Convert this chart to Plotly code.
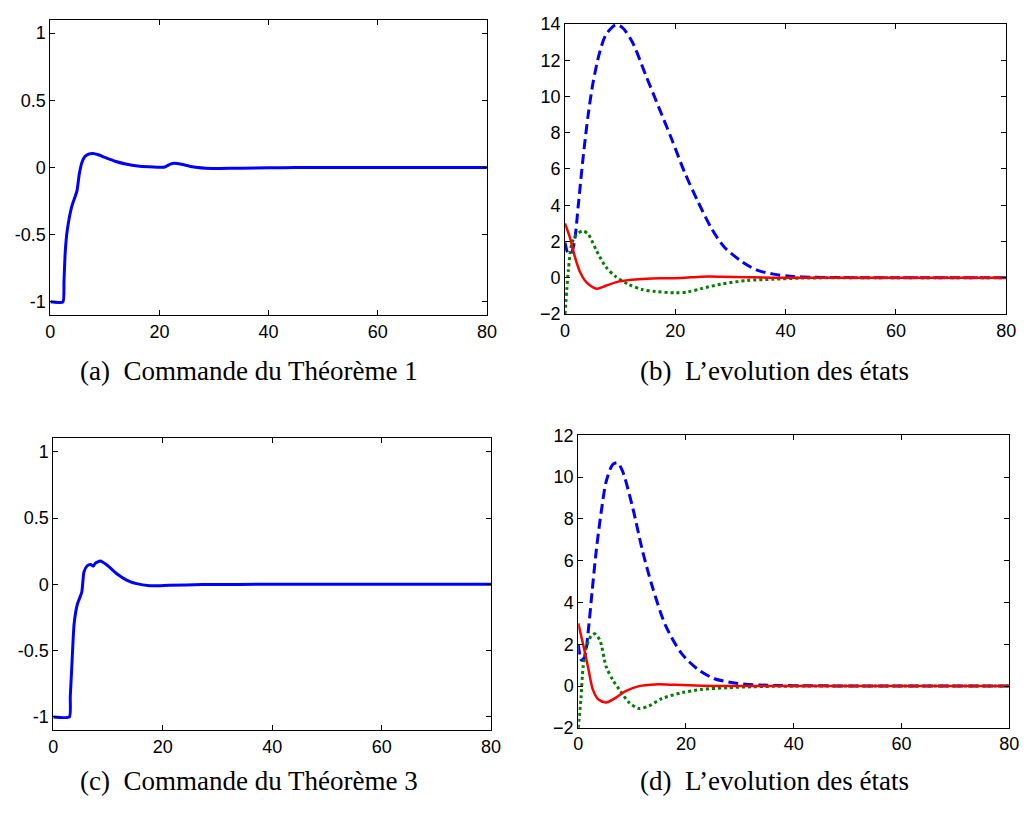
import plotly.graph_objects as go

# ---------------- data ----------------
# (a) commande, Théorème 1
t_a = [0, 2.3, 2.5, 2.7, 3.0, 3.4, 4.0, 4.6, 4.9, 5.3, 5.8, 6.3, 7.0, 7.8, 8.8, 10.0, 12.0, 14.0, 16.0, 18.0, 20.8, 21.3, 22.0, 22.7, 24.0, 25.5, 27.0, 28.5, 31.0, 35.0, 40.0, 45.0, 80.0]
u_a = [-1, -1, -0.85, -0.65, -0.5, -0.39, -0.28, -0.21, -0.17, -0.05, 0.04, 0.08, 0.1, 0.105, 0.095, 0.075, 0.045, 0.025, 0.012, 0.006, 0.002, 0.01, 0.025, 0.031, 0.024, 0.01, 0.0, -0.005, -0.007, -0.005, -0.002, 0.0, 0.0]

# (c) commande, Théorème 3
t_c = [0, 2.95, 3.1, 3.36, 3.8, 4.4, 5.2, 5.6, 6.2, 6.8, 7.3, 7.7, 8.6, 9.8, 11.6, 13.4, 15.2, 17.6, 21.2, 27.2, 40.0, 80.0]
u_c = [-1, -1, -0.85, -0.64, -0.30, -0.15, -0.06, 0.093, 0.14, 0.15, 0.137, 0.16, 0.176, 0.146, 0.08, 0.032, 0.005, -0.01, -0.007, -0.002, 0.0, 0.0]

# (b) états
t_b1 = [0, 0.6, 1.2, 1.8, 2.4, 3.3, 4.2, 5.1, 6.25, 7.4, 9.2, 10.4, 12.2, 14.6, 17.0, 19.4, 21.7, 24.1, 26.5, 28.9, 31.9, 34.8, 37.8, 40.8, 45, 50, 80]
x1_b = [1.95, 1.32, 1.4, 2.2, 4.0, 6.7, 9.0, 10.8, 12.4, 13.4, 13.95, 13.8, 13.0, 11.2, 9.4, 7.6, 5.8, 4.2, 2.75, 1.68, 0.93, 0.42, 0.2, 0.08, 0.03, 0.01, 0.0]
t_b2 = [0, 0.6, 1.2, 2.1, 3.3, 4.2, 5.7, 7.4, 9.2, 11.6, 14.0, 16.4, 20.0, 22.3, 24.7, 28.3, 33.0, 37.8, 42.6, 50, 80]
x2_b = [-2, 0.4, 1.85, 2.4, 2.58, 2.4, 1.5, 0.6, 0.06, -0.38, -0.65, -0.76, -0.83, -0.78, -0.6, -0.35, -0.15, -0.08, -0.02, 0.0, 0.0]
t_b3 = [0, 0.9, 1.8, 2.7, 3.9, 5.7, 7.4, 9.8, 13.4, 17.0, 21.1, 24.7, 28.3, 33.0, 39.0, 80]
x3_b = [3.0, 2.2, 1.14, 0.33, -0.26, -0.6, -0.44, -0.2, -0.08, -0.03, -0.01, 0.06, 0.06, 0.03, 0.0, 0.0]

# (d) états
t_d1 = [0, 0.6, 1.2, 1.8, 2.6, 3.35, 4.3, 5.2, 6.4, 7.3, 8.2, 10.1, 11.9, 13.7, 16.2, 19.2, 22.3, 25.3, 29.0, 33.8, 40, 80]
x1_d = [2.0, 1.24, 1.4, 2.5, 4.6, 6.5, 8.4, 9.8, 10.6, 10.68, 10.3, 8.55, 6.5, 4.8, 2.9, 1.55, 0.78, 0.35, 0.15, 0.05, 0.02, 0.0]
t_d2 = [0, 0.5, 0.9, 1.5, 2.4, 3.05, 4.0, 5.2, 6.4, 7.6, 9.45, 11.3, 13.1, 15.5, 19.2, 22.9, 27.7, 32.6, 40, 80]
x2_d = [-2, -0.6, 0.9, 1.85, 2.4, 2.5, 2.2, 0.92, 0.3, -0.16, -0.79, -1.07, -0.95, -0.6, -0.32, -0.16, -0.08, -0.03, 0.0, 0.0]
t_d3 = [0, 0.9, 1.8, 2.7, 3.7, 5.2, 7.0, 8.8, 11.3, 14.3, 18.0, 22.9, 27.7, 80]
x3_d = [3.0, 2.0, 0.93, -0.16, -0.63, -0.78, -0.55, -0.24, 0.0, 0.08, 0.06, 0.02, 0.0, 0.0]

x_ticks = [0, 20, 40, 60, 80]
u_ticks = [-1, -0.5, 0, 0.5, 1]
u_ticktext = ["-1", "-0.5", "0", "0.5", "1"]
b_ticks = [-2, 0, 2, 4, 6, 8, 10, 12, 14]
d_ticks = [-2, 0, 2, 4, 6, 8, 10, 12]

captions = ["(a)  Commande du Théorème 1", "(b)  L’evolution des états",
            "(c)  Commande du Théorème 3", "(d)  L’evolution des états"]

# ---------------- figure ----------------
W, H = 1032, 813
BLUE, GREEN, RED = "#0000FF", "#008000", "#FF0000"

def px(x):
    return x / W

def py(y):
    return 1 - y / H

fig = go.Figure()

def add_line(x, y, xa, ya, color, dash, width, smoothing):
    fig.add_trace(go.Scatter(x=x, y=y, xaxis=xa, yaxis=ya, mode="lines",
                             line=dict(color=color, dash=dash, width=width, shape="spline", smoothing=smoothing),
                             showlegend=False, hoverinfo="skip"))

add_line(t_a, u_a, "x", "y", BLUE, "solid", 3, 0.5)
add_line(t_b1, x1_b, "x2", "y2", BLUE, "10px,5px", 3, 0.8)
add_line(t_b2, x2_b, "x2", "y2", GREEN, "3px,3px", 3, 0.8)
add_line(t_b3, x3_b, "x2", "y2", RED, "solid", 2.5, 0.8)
add_line(t_c, u_c, "x3", "y3", BLUE, "solid", 3, 0.5)
add_line(t_d1, x1_d, "x4", "y4", BLUE, "10px,5px", 3, 0.8)
add_line(t_d2, x2_d, "x4", "y4", GREEN, "3px,3px", 3, 0.8)
add_line(t_d3, x3_d, "x4", "y4", RED, "solid", 2.5, 0.8)

tickfont = dict(family="Liberation Sans, Arial, sans-serif", size=18, color="black")
common = dict(showline=True, linecolor="black", linewidth=1, mirror="ticks",
              ticks="inside", ticklen=5, tickcolor="black", tickwidth=1,
              showgrid=False, zeroline=False, tickfont=tickfont, fixedrange=True)

domains = {
    1: ([px(46), px(489)], [py(313), py(10)], [-1.1, 1.1], u_ticks),
    2: ([px(568.3), px(1016)], [py(311.7), py(14.3)], [-2, 14], b_ticks),
    3: ([px(49), px(493.3)], [py(738.3), py(439.3)], [-1.1, 1.1], u_ticks),
    4: ([px(581.7), px(1019)], [py(736), py(436)], [-2, 12], d_ticks),
}

layout = {}
for i, (xd, yd, yr, yt) in domains.items():
    sfx = "" if i == 1 else str(i)
    anc = "" if i == 1 else str(i)
    layout["xaxis" + sfx] = dict(domain=xd, range=[0, 80], tickvals=x_ticks,
                                 anchor="y" + anc, **common)
    yax = dict(domain=yd, range=yr, tickvals=yt, anchor="x" + anc, **common)
    if yr[0] == -1.1:
        yax["ticktext"] = u_ticktext
    layout["yaxis" + sfx] = yax

fig.update_layout(width=W, height=H, margin=dict(l=0, r=0, t=0, b=0),
                  paper_bgcolor="white", plot_bgcolor="white", **layout)

cap_pos = [(248, 370), (781, 370), (248, 790), (781, 790)]
for text, (cx, cy) in zip(captions, cap_pos):
    fig.add_annotation(x=px(cx), y=py(cy), xref="paper", yref="paper", text=text,
                       showarrow=False, xanchor="center", yanchor="middle",
                       font=dict(family="Liberation Serif, Times New Roman, serif", size=27, color="black"))

fig.write_html("out.html")
